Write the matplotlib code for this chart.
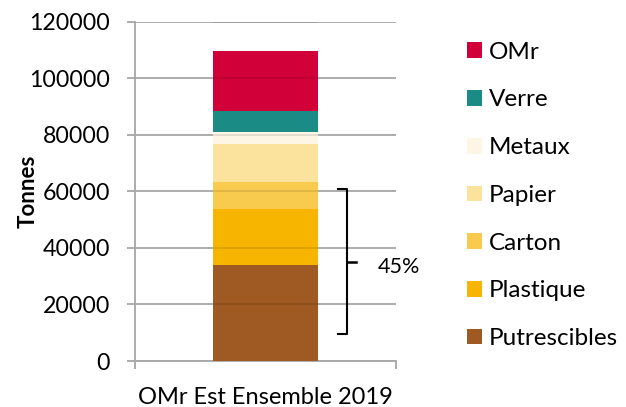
import matplotlib
matplotlib.use("Agg")
import matplotlib.pyplot as plt
from matplotlib.patches import Patch

plt.rcParams['font.family'] = ['Lato', 'DejaVu Sans']

category = "OMr Est Ensemble 2019"
series = ["Putrescibles", "Plastique", "Carton", "Papier", "Metaux", "Verre", "OMr"]
values = [34100, 19700, 9500, 13600, 4000, 7400, 21500]
colors = ["#9E5A22", "#F7B500", "#F8CA4D", "#FBE29D", "#FEF6E4", "#1A8C85", "#D20038"]
yticks = [0, 20000, 40000, 60000, 80000, 100000, 120000]
bracket_low, bracket_high, bracket_mid = 9500, 61000, 35000
bracket_label = "45%"

fig = plt.figure(figsize=(6.26, 4.07), dpi=100)
ax = fig.add_axes([135/626, 1-361/407, (396-135)/626, (361-21.7)/407])

grid_c = "#A6A6A6"
bar_w = 0.4
bottom = 0
for s, v, c in zip(series, values, colors):
    ax.bar(0, v, width=bar_w, bottom=bottom, color=c, label=s, zorder=3)
    bottom += v
# faint gridlines showing through the bar
ax.hlines(yticks[1:], -bar_w/2, bar_w/2, color="black", alpha=0.1, lw=1.3, zorder=3.5)

ax.set_xlim(-0.5, 0.5)
ax.set_ylim(0, 120000)
ax.set_yticks(yticks)
ax.set_yticklabels([str(t) for t in yticks])
ax.yaxis.grid(True, color=grid_c, linewidth=1.3, zorder=0)
ax.set_axisbelow(True)

for sp in ["top", "right"]:
    ax.spines[sp].set_visible(False)
for sp in ["left", "bottom"]:
    ax.spines[sp].set_color(grid_c)
    ax.spines[sp].set_linewidth(1.3)

ax.tick_params(axis="y", length=6, width=1.3, color=grid_c, labelsize=16.7, pad=12, direction="out")
ax.set_xticks([0])
ax.set_xticklabels([category])
ax.set_xticks([-0.5, 0.5], minor=True)
ax.tick_params(axis="x", which="major", length=0, labelsize=17, pad=19)
ax.tick_params(axis="x", which="minor", length=6, width=1.3, color=grid_c, direction="out")

ax.set_ylabel("Tonnes", fontsize=16, fontweight="bold", labelpad=-7)

# bracket
xv, xl, xr = 0.312, 0.278, 0.347
ax.plot([xl, xv, xv, xl], [bracket_high, bracket_high, bracket_low, bracket_low],
        color="black", lw=1.5, clip_on=False, zorder=4, solid_joinstyle="round")
ax.plot([xv, xr], [bracket_mid, bracket_mid], color="black", lw=1.8, clip_on=False, zorder=4)
ax.text(0.43, bracket_mid - 1800, bracket_label, fontsize=15.5, va="center", ha="left")

handles = [Patch(facecolor=c, label=s) for s, c in zip(series, colors)][::-1]
fig.legend(handles=handles, loc="upper left", bbox_to_anchor=(457/626, 1-32/407),
           frameon=False, fontsize=17.5, handlelength=0.62, handleheight=0.62,
           handletextpad=0.3, labelspacing=1.1, borderaxespad=0)

fig.savefig("out.png", dpi=100)
